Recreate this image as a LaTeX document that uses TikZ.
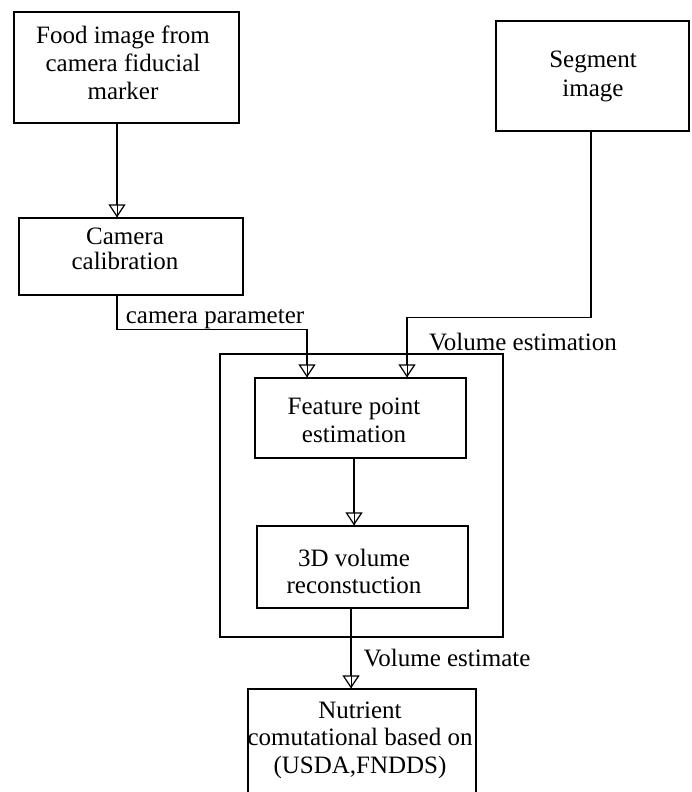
\documentclass[tikz,border=0pt]{standalone}
\usepackage{fontspec}
\setmainfont{Liberation Serif}
\usetikzlibrary{arrows.meta}
\begin{document}
\begin{tikzpicture}[x=1pt,y=-1pt,
  box/.style={draw,line width=1.2pt,rectangle,inner sep=0pt},
  lbl/.style={align=center,inner sep=0pt,font=\fontsize{25}{28}\selectfont},
  flow/.style={line width=1.2pt,-{Triangle[open,width=17pt,length=13pt,line width=1.2pt]},preaction={draw,-}}]
\useasboundingbox (0,0) rectangle (691,792);
\fill[white] (0,0) rectangle (691,792);
\clip (0,0) rectangle (691,792);
% boxes
\node[box,minimum width=225pt,minimum height=111pt] (food) at (126.5,67.5) {};
\node[box,minimum width=224pt,minimum height=77pt] (cam) at (131,256.5) {};
\node[box,minimum width=193pt,minimum height=110pt] (seg) at (592.5,76) {};
\node[box,minimum width=283pt,minimum height=283pt] (vol) at (361.5,495.5) {};
\node[box,minimum width=211pt,minimum height=80pt] (feat) at (360.5,418) {};
\node[box,minimum width=211pt,minimum height=82pt] (td) at (362.5,567) {};
\node[box,minimum width=228pt,minimum height=115pt] (nut) at (362,746.5) {};
% texts
\node[lbl] (food-t) at (123,63) {Food image from\\camera fiducial\\marker};
\node[lbl,font=\fontsize{25}{24.5}\selectfont] (cam-t) at (125,249) {Camera\\calibration};
\node[lbl,font=\fontsize{25}{29}\selectfont] (seg-t) at (593,76) {Segment\\image};
\node[lbl] (feat-t) at (354,420) {Feature point\\estimation};
\node[lbl,font=\fontsize{25}{27}\selectfont] (td-t) at (354,571) {3D volume\\reconstuction};
\node[lbl,font=\fontsize{25}{27.5}\selectfont] (nut-t) at (360,740) {Nutrient\\comutational based on\\(USDA,FNDDS)};
\node[lbl] (vol-t) at (523,342) {Volume estimation};
% connectors
\draw[flow] ([xshift=-9.5pt]food.south) -- ([xshift=-9.5pt]food.south |- cam.north);
\draw[flow] ([xshift=-14pt]cam.south) -- ++(0,34) -| ([xshift=-53.5pt]feat.north);
\draw[flow] ([xshift=-1.5pt]seg.south) -- ++(0,186) -| ([xshift=46.5pt]feat.north);
\draw[flow] ([xshift=-6.5pt]feat.south) -- ([xshift=-6.5pt]feat.south |- td.north);
\draw[flow] ([xshift=-11.5pt]td.south) -- ([xshift=-11.5pt]td.south |- nut.north);
% connector labels
\node[lbl] (cp-t) at (215,319) {camera parameter};
\node[lbl] (ve-t) at (447,658) {Volume estimate};
\end{tikzpicture}
\end{document}
